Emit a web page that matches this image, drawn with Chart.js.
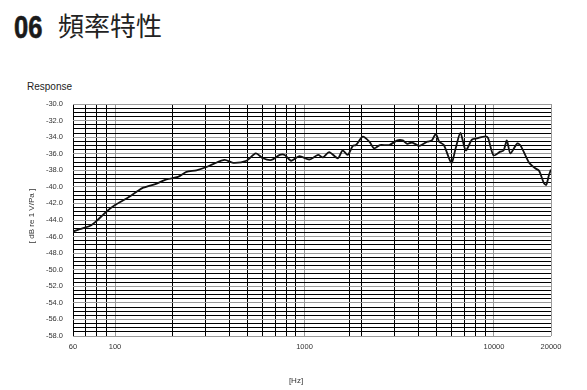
<!DOCTYPE html>
<html>
<head>
<meta charset="utf-8">
<script src="https://cdn.jsdelivr.net/npm/chart.js@4"></script>
<style>
  html, body { margin: 0; padding: 0; background: #fff; }
  body { width: 587px; height: 390px; position: relative; overflow: hidden; font-family: "Liberation Sans", Arial, sans-serif; color: #222; }
  #chartWrap { position: absolute; left: 0; top: 0; width: 587px; height: 390px; }
  .num { position: absolute; left: 14px; top: 11px; font: bold 32px/32px "Liberation Sans", Arial, sans-serif; color: #1a1a1a;
         transform: scaleX(0.8); transform-origin: 0 0; -webkit-text-stroke: 0.6px #1a1a1a; }
  .ttl { position: absolute; left: 58px; top: 12px; font: 26px/26px "Noto Sans CJK TC", sans-serif; color: #222; }
  .resp { position: absolute; left: 27px; top: 82px; font: 10px/10px "Liberation Sans", Arial, sans-serif; color: #222; }
</style>
</head>
<body>
<div class="num">06</div>
<div class="ttl">頻率特性</div>
<div class="resp">Response</div>
<div id="chartWrap"><canvas id="freqChart" width="587" height="390"></canvas></div>

<script>
// frequency response
const FREQS = [60, 65, 74, 80, 90, 100, 115, 130, 141, 166, 187, 215, 238, 269, 304, 329, 379, 420, 494, 553,
  604, 670, 740, 786, 850, 940, 1060, 1180, 1250, 1350, 1500, 1590, 1690, 1800, 1870, 2030, 2200, 2330, 2500, 2800,
  3090, 3300, 3480, 3700, 4040, 4450, 4700, 4930, 5140, 5440, 5960, 6270, 6650, 7100, 7650, 8130, 9000, 9300, 9950,
  10800, 11250, 11700, 12200, 13300, 13850, 15300, 16500, 17300, 18350, 18880, 19500, 20000];
const RESPONSE = [-45.4, -45.1, -44.7, -44.1, -43.0, -42.2, -41.4, -40.6, -40.1, -39.6, -39.1, -38.8, -38.2, -38.0, -37.6, -37.25, -36.75, -37.1, -36.85, -35.95,
  -36.55, -36.75, -36.15, -36.15, -36.85, -36.3, -36.7, -36.15, -36.45, -35.8, -36.55, -35.6, -36.15, -35.05, -34.95, -33.95, -34.55, -35.35, -34.95, -34.95,
  -34.4, -34.4, -34.8, -34.65, -35.05, -34.55, -34.4, -33.6, -34.55, -34.95, -37.1, -35.4, -33.5, -35.6, -34.3, -34.15, -33.9, -34.1, -36.2,
  -35.75, -35.6, -34.4, -35.95, -34.75, -35.05, -37.05, -37.75, -38.05, -39.55, -39.75, -38.6, -37.9];

// axis grid positions and labels
const X_TICKS = [60, 70, 80, 90, 100, 200, 300, 400, 500, 600, 700, 800, 900, 1000, 1720,
  2000, 3000, 4000, 5000, 6000, 7000, 8000, 9000, 10000, 20000];
const X_LABELS = [60, 100, 1000, 10000, 20000];
const X_GRAY = [100, 1000, 10000, 20000];
const Y_MIN = -58, Y_MAX = -30, Y_STEP = 0.5, Y_LABEL_STEP = 2;
const X_TITLE = '[Hz]';
const Y_TITLE = '[ dB re 1 V/Pa ]';

Chart.defaults.font.family = "'Liberation Sans', Arial, sans-serif";
Chart.defaults.color = '#333';

// axis titles drawn by hand so they sit where the original has them
const axisTitles = {
  id: 'axisTitles',
  afterDraw(chart) {
    const ctx = chart.ctx;
    ctx.save();
    ctx.fillStyle = '#333';
    ctx.font = "8px 'Liberation Sans', Arial, sans-serif";
    ctx.textAlign = 'center';
    ctx.textBaseline = 'middle';
    ctx.fillText(X_TITLE, 296, 381);
    ctx.translate(32, 216);
    ctx.rotate(-Math.PI / 2);
    ctx.fillText(Y_TITLE, 0, 0);
    ctx.restore();
  }
};

const points = FREQS.map((f, i) => ({ x: f, y: RESPONSE[i] }));

new Chart(document.getElementById('freqChart'), {
  type: 'line',
  data: {
    datasets: [{
      data: points,
      borderColor: '#111',
      borderWidth: 1.8,
      pointRadius: 0,
      tension: 0.25,
      fill: false
    }]
  },
  plugins: [axisTitles],
  options: {
    responsive: false,
    animation: false,
    layout: { padding: { left: 0, top: 104, right: 36, bottom: 0 } },
    plugins: { legend: { display: false }, tooltip: { enabled: false } },
    scales: {
      x: {
        type: 'logarithmic',
        min: 60,
        max: 20000,
        afterBuildTicks: (scale) => { scale.ticks = X_TICKS.map(v => ({ value: v })); },
        afterFit: (scale) => { scale.height = 54; },
        border: { display: false },
        grid: {
          drawTicks: false,
          lineWidth: 1,
          color: (ctx) => (ctx.tick && X_GRAY.includes(ctx.tick.value)) ? '#9a9a9a' : '#000'
        },
        ticks: {
          autoSkip: false,
          maxRotation: 0,
          padding: 6,
          font: { size: 7.5 },
          color: '#333',
          callback: (v) => X_LABELS.includes(v) ? String(v) : ''
        }
      },
      y: {
        min: Y_MIN,
        max: Y_MAX,
        afterBuildTicks: (scale) => {
          const t = [];
          for (let v = Y_MIN; v <= Y_MAX + 1e-9; v += Y_STEP) t.push({ value: v });
          scale.ticks = t;
        },
        afterFit: (scale) => { scale.width = 73; },
        border: { display: false },
        grid: {
          drawTicks: false,
          lineWidth: 1,
          color: (ctx) => (ctx.tick && ctx.tick.value % Y_LABEL_STEP === 0) ? '#9a9a9a' : '#000'
        },
        ticks: {
          autoSkip: false,
          padding: 10,
          font: { size: 7.5 },
          color: '#333',
          callback: (v) => v % Y_LABEL_STEP === 0 ? v.toFixed(1) : ''
        }
      }
    }
  }
});
</script>
</body>
</html>
